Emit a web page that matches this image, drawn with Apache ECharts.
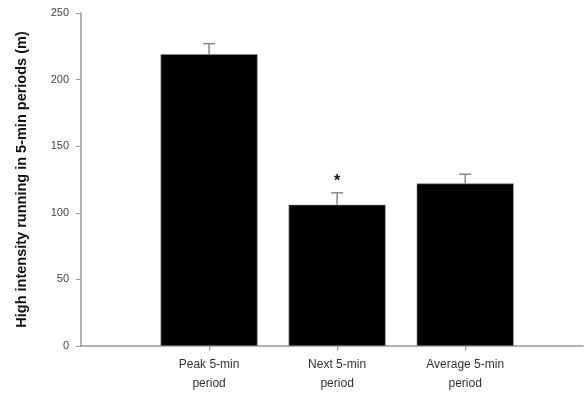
<!DOCTYPE html>
<html>
<head>
<meta charset="utf-8">
<script src="https://cdn.jsdelivr.net/npm/echarts@6/dist/echarts.min.js"></script>
<style>html,body{margin:0;padding:0;background:#fff}#c{width:584px;height:394px}</style>
</head>
<body>
<div id="c"></div>
<script>
var categories = ['Peak 5-min\nperiod', 'Next 5-min\nperiod', 'Average 5-min\nperiod'];
var means = [219, 106, 122];
var errors = [8, 9, 7];
var marks = ['', '*', ''];
var yTicks = [0, 50, 100, 150, 200, 250];
var yTitle = 'High intensity running in 5-min periods (m)';

var chart = echarts.init(document.getElementById('c'), null, {renderer: 'canvas'});
var barData = means.map(function (v, i) { return [i + 1, v]; });
var errData = means.map(function (v, i) { return [i + 1, v, v + errors[i], marks[i]]; });

chart.setOption({
  animation: false,
  grid: {left: 81, right: 1, top: 13, bottom: 48, containLabel: false},
  xAxis: {
    type: 'value', min: 0, max: 3.92, interval: 1,
    axisLine: {show: true, lineStyle: {color: '#999', width: 1.5}},
    axisTick: {show: true, length: 5, lineStyle: {color: '#999'},
      customValues: [1, 2, 3]},
    axisLabel: {
      customValues: [1, 2, 3],
      formatter: function (v) { return categories[Math.round(v) - 1] || ''; },
      color: '#333', fontFamily: 'Liberation Sans, Arial', fontSize: 12,
      lineHeight: 19, margin: 9
    },
    splitLine: {show: false}
  },
  yAxis: {
    type: 'value', min: 0, max: 250, interval: 50,
    name: yTitle, nameLocation: 'middle', nameGap: 52,
    nameTextStyle: {fontFamily: 'Liberation Sans, Arial', fontWeight: 'bold', fontSize: 14.5, color: '#111'},
    axisLine: {show: true, lineStyle: {color: '#999', width: 1.5}},
    axisTick: {show: true, length: 5, inside: false, lineStyle: {color: '#999'}},
    axisLabel: {
      color: '#444', fontFamily: 'Liberation Sans, Arial', fontSize: 11, margin: 12,
      formatter: function (v) { return yTicks.indexOf(v) >= 0 ? String(v) : ''; }
    },
    splitLine: {show: false}
  },
  series: [
    {
      type: 'bar', data: barData, barWidth: 97,
      itemStyle: {color: '#000', borderColor: '#888', borderWidth: 0.6}
    },
    {
      type: 'custom', data: errData, z: 5,
      renderItem: function (params, api) {
        var x = api.value(0);
        var top = api.coord([x, api.value(2)]);
        var base = api.coord([x, api.value(1)]);
        var children = [
          {type: 'line', shape: {x1: top[0], y1: base[1], x2: top[0], y2: top[1]},
            style: {stroke: '#888', lineWidth: 1.5}},
          {type: 'line', shape: {x1: top[0] - 6, y1: top[1], x2: top[0] + 6, y2: top[1]},
            style: {stroke: '#888', lineWidth: 1.5}}
        ];
        var m = errData[params.dataIndex][3];
        if (m) {
          children.push({type: 'text', x: top[0], y: top[1] - 3,
            style: {text: m, fontSize: 16, fontWeight: 'bold', fontFamily: 'Liberation Sans, Arial',
              fill: '#111', align: 'center', verticalAlign: 'bottom'}});
        }
        return {type: 'group', children: children};
      }
    }
  ]
});
</script>
</body>
</html>
